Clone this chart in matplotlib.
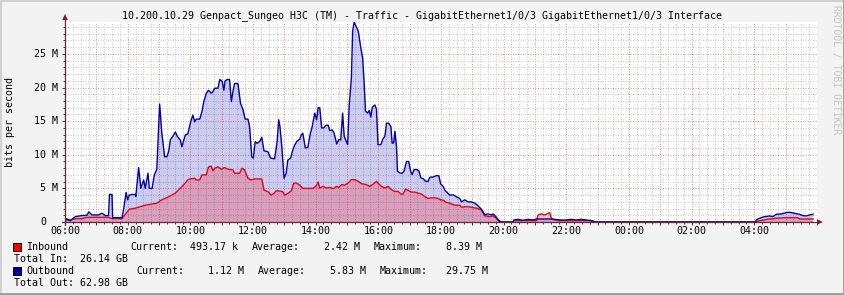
import matplotlib
matplotlib.use('Agg')
import matplotlib.pyplot as plt
import matplotlib.transforms as mtrans
from matplotlib.patches import Rectangle, Polygon
from matplotlib.lines import Line2D

# ---------------- data (hours since 06:00, values in Mbit/s) ----------------
out_t = [0.00, 0.01, 0.17, 0.25, 0.33, 0.54, 0.70, 0.76, 0.86, 1.07, 1.18, 1.29, 1.39, 1.42, 1.50,
         1.52, 1.82, 1.87, 1.95, 2.00, 2.05, 2.14, 2.24, 2.26, 2.35, 2.42, 2.51, 2.56, 2.65, 2.69,
         2.78, 2.85, 2.93, 3.02, 3.09, 3.18, 3.25, 3.31, 3.36, 3.47, 3.52, 3.59, 3.68, 3.73, 3.84,
         3.92, 4.01, 4.08, 4.14, 4.19, 4.30, 4.37, 4.43, 4.51, 4.58, 4.67, 4.72, 4.78, 4.88, 4.94,
         5.02, 5.07, 5.11, 5.18, 5.25, 5.31, 5.36, 5.41, 5.52, 5.60, 5.68, 5.75, 5.84, 5.89, 5.96,
         6.01, 6.07, 6.13, 6.21, 6.28, 6.35, 6.48, 6.56, 6.69, 6.77, 6.82, 6.86, 6.92, 6.99, 7.06,
         7.11, 7.20, 7.27, 7.33, 7.41, 7.49, 7.54, 7.59, 7.67, 7.75, 7.82, 7.89, 7.97, 8.03, 8.08,
         8.13, 8.19, 8.26, 8.33, 8.40, 8.45, 8.53, 8.59, 8.67, 8.74, 8.80, 8.86, 8.91, 8.96, 9.02,
         9.07, 9.14, 9.18, 9.23, 9.29, 9.36, 9.44, 9.50, 9.55, 9.59, 9.66, 9.71, 9.76, 9.81, 9.89,
         9.94, 9.99, 10.08, 10.15, 10.21, 10.26, 10.33, 10.40, 10.44, 10.49, 10.53, 10.58, 10.61,
         10.69, 10.76, 10.82, 10.90, 10.97, 11.03, 11.08, 11.14, 11.22, 11.29, 11.36, 11.43, 11.51,
         11.59, 11.64, 11.75, 11.86, 11.93, 11.99, 12.07, 12.12, 12.28, 12.39, 12.49, 12.60, 12.65,
         12.76, 12.86, 12.97, 13.08, 13.18, 13.29, 13.40, 13.50, 13.61, 13.66, 13.75, 13.82, 13.88,
         14.30, 14.32, 14.46, 14.62, 14.78, 14.94, 15.05, 15.42, 15.63, 15.79, 16.00, 16.16, 16.32,
         16.48, 16.64, 16.80, 16.91, 22.04, 22.06, 22.12, 22.22, 22.33, 22.49, 22.59, 22.70, 22.86,
         23.02, 23.12, 23.28, 23.44, 23.55, 23.66, 23.76, 23.87]
out_v = [0.5, 0.55, 0.2, 0.5, 0.8, 0.95, 1.0, 1.5, 1.05, 1.05, 1.3, 0.95, 0.95, 4.1, 4.1,
         0.65, 0.65, 1.9, 4.4, 3.3, 4.0, 4.1, 4.1, 3.8, 8.1, 5.0, 6.25, 5.0, 7.25, 5.0,
         5.0, 7.0, 7.85, 17.55, 13.2, 9.7, 9.7, 10.5, 12.2, 12.95, 13.4, 12.7, 12.2, 11.2, 12.95,
         13.1, 14.9, 15.9, 14.9, 15.3, 15.3, 16.4, 17.9, 19.15, 19.6, 19.15, 19.4, 19.9, 19.9, 21.2,
         20.9, 19.6, 21.0, 21.2, 21.2, 17.9, 19.4, 20.6, 20.6, 17.7, 16.7, 15.3, 15.3, 14.2, 9.7,
         9.5, 11.95, 11.7, 11.95, 12.6, 10.6, 10.45, 9.5, 9.4, 11.95, 15.2, 14.2, 11.2, 6.5, 7.25,
         9.2, 9.5, 10.7, 11.45, 12.05, 12.3, 12.95, 13.2, 11.0, 11.1, 12.95, 14.2, 16.2, 15.2, 17.0,
         17.0, 14.0, 14.0, 14.4, 14.4, 13.6, 13.7, 13.2, 11.6, 12.25, 12.2, 16.2, 12.75, 12.2, 11.5,
         17.4, 21.4, 28.4, 29.75, 29.1, 28.4, 25.9, 24.4, 20.4, 16.5, 16.2, 16.6, 15.6, 17.1, 17.4,
         16.8, 11.5, 11.5, 12.4, 12.75, 14.7, 14.7, 14.2, 11.75, 11.75, 13.5, 11.25, 7.55,
         7.3, 7.25, 7.55, 9.0, 9.0, 7.55, 7.05, 7.8, 7.8, 7.65, 6.55, 6.45, 6.05,
         6.05, 6.65, 6.7, 6.9, 6.9, 5.65, 5.3, 4.75, 4.0, 4.05, 3.75, 3.5, 3.0,
         3.3, 3.0, 3.0, 2.8, 2.4, 1.9, 1.05, 1.2, 1.05, 1.2, 0.8, 0.3, 0.0,
         0.0, 0.3, 0.4, 0.25, 0.4, 0.3, 0.45, 0.45, 0.4, 0.3, 0.3, 0.4, 0.3,
         0.4, 0.3, 0.2, 0.0, 0.0, 0.3, 0.45, 0.65, 0.8, 0.9, 0.8, 1.15, 1.2,
         1.4, 1.45, 1.3, 1.15, 0.95, 0.9, 1.05, 1.15]

in_t = [0.00, 0.17, 0.33, 0.54, 0.70, 1.39, 1.50, 1.82, 1.87, 1.95, 2.05, 2.24, 2.56, 2.93, 3.09,
        3.31, 3.52, 3.73, 3.92, 3.98, 4.14, 4.19, 4.30, 4.37, 4.51, 4.58, 4.67, 4.72, 4.78, 4.88,
        4.99, 5.09, 5.20, 5.36, 5.41, 5.57, 5.65, 5.73, 5.84, 5.94, 6.05, 6.28, 6.35, 6.48, 6.58,
        6.67, 6.74, 6.85, 6.95, 7.01, 7.11, 7.22, 7.30, 7.38, 7.49, 7.59, 7.91, 8.02, 8.08, 8.13,
        8.24, 8.35, 8.45, 8.56, 8.67, 8.74, 8.83, 8.93, 9.04, 9.14, 9.25, 9.36, 9.46, 9.62, 9.73,
        9.84, 9.94, 10.02, 10.10, 10.21, 10.31, 10.42, 10.52, 10.63, 10.72, 10.79, 10.87, 10.95,
        11.06, 11.16, 11.27, 11.38, 11.48, 11.59, 11.70, 11.80, 11.91, 11.99, 12.10, 12.12, 12.28,
        12.44, 12.60, 12.65, 12.81, 12.97, 13.13, 13.29, 13.40, 13.56, 13.66, 13.77, 13.86, 13.93,
        14.30, 14.32, 15.05, 15.10, 15.21, 15.31, 15.42, 15.47, 15.52, 15.63, 15.79, 16.85, 16.91,
        22.04, 22.06, 22.17, 22.33, 22.43, 22.59, 22.65, 23.02, 23.39, 23.44, 23.87]
in_v = [0.3, 0.3, 0.5, 0.5, 0.7, 0.7, 0.5, 0.5, 0.8, 1.3, 1.9, 2.05, 2.5, 2.8, 3.3,
        3.75, 4.3, 5.25, 6.25, 6.4, 6.5, 6.25, 6.25, 7.0, 7.0, 8.2, 8.3, 7.6, 8.0, 8.2,
        7.85, 8.1, 7.85, 7.75, 7.25, 7.25, 8.0, 7.75, 6.5, 6.25, 6.4, 6.4, 4.75, 4.5, 4.0,
        4.25, 4.65, 4.6, 4.5, 4.0, 4.25, 4.6, 5.75, 5.8, 5.5, 5.0, 5.0, 5.4, 5.95, 5.05,
        5.3, 5.05, 5.15, 4.95, 5.3, 5.15, 5.55, 5.5, 5.8, 6.3, 6.3, 6.05, 5.7, 5.55, 5.3,
        5.65, 6.05, 5.65, 5.3, 5.05, 5.3, 4.8, 4.55, 4.55, 4.15, 4.15, 4.9, 4.7,
        4.45, 4.45, 4.3, 4.15, 3.8, 3.5, 3.6, 3.6, 3.5, 3.3, 3.2, 3.0, 2.8,
        2.5, 2.5, 2.2, 2.3, 2.2, 2.05, 1.8, 0.9, 0.8, 0.9, 0.55, 0.2, 0.0,
        0.0, 0.2, 0.2, 1.05, 1.2, 1.05, 1.3, 1.4, 0.55, 0.3, 0.2, 0.2, 0.0,
        0.0, 0.05, 0.2, 0.3, 0.45, 0.45, 0.55, 0.65, 0.65, 0.45, 0.45]

x_ticks = list(range(0, 24, 2))
x_tick_labels = ["06:00", "08:00", "10:00", "12:00", "14:00", "16:00",
                 "18:00", "20:00", "22:00", "00:00", "02:00", "04:00"]
y_ticks = [0, 5, 10, 15, 20, 25]
y_tick_labels = ["0", "5 M", "10 M", "15 M", "20 M", "25 M"]

title = "10.200.10.29 Genpact_Sungeo H3C (TM) - Traffic - GigabitEthernet1/0/3 GigabitEthernet1/0/3 Interface"
in_stats = ["Inbound", "Current:", "493.17 k", "Average:", "2.42 M", "Maximum:", "8.39 M"]
out_stats = ["Outbound", "Current:", "1.12 M", "Average:", "5.83 M", "Maximum:", "29.75 M"]
total_in = "Total In:  26.14 GB"
total_out = "Total Out: 62.98 GB"

# ---------------- figure ----------------
W, H = 845, 295
FONT = "DejaVu Sans Mono"
FS = 7.2
fig = plt.figure(figsize=(W / 100, H / 100), dpi=100, facecolor="#F3F3F3")

L, R, T, B = 65, 817, 22, 222
ax = fig.add_axes([L / W, 1 - B / H, (R - L) / W, (B - T) / H])
ax.set_facecolor("white")
ax.set_xlim(0, 24)
ax.set_ylim(0, 29.75)
for s in ax.spines.values():
    s.set_visible(False)

# grid
ax.set_xticks(range(0, 25), minor=False)
ax.set_xticks([i * 0.25 for i in range(97)], minor=True)
ax.set_yticks(range(0, 30, 5))
ax.set_yticks(range(0, 30), minor=True)
ax.grid(which="minor", color="#CACACA", lw=0.72, linestyle=(0, (1, 1.5)), zorder=0)
ax.grid(which="major", color="#F09494", lw=0.72, linestyle=(0, (1, 1.5)), zorder=0)
ax.set_axisbelow(True)
ax.tick_params(which="both", labelbottom=False, labelleft=False, color="#5A3030", width=0.7)
ax.tick_params(which="major", direction="out", length=2.2)
ax.tick_params(which="minor", direction="out", length=1.2)

# data
ax.fill_between(out_t, out_v, 0, color="#0000AA", alpha=0.2, lw=0, zorder=2)
ax.fill_between(in_t, in_v, 0, color="#FF0000", alpha=0.22, lw=0, zorder=3)
ax.plot(in_t, in_v, color="#E8001C", lw=1.0, zorder=4)
ax.plot(out_t, out_v, color="#0000A8", lw=1.0, zorder=5)

# overlay in pixel coordinates
ov = fig.add_axes([0, 0, 1, 1])
ov.set_xlim(0, W)
ov.set_ylim(H, 0)
ov.axis("off")

# frame
ov.add_line(Line2D([0, W], [0.5, 0.5], color="#D2D2D2", lw=1.5))
ov.add_line(Line2D([0.5, 0.5], [0, H], color="#D2D2D2", lw=1.5))
ov.add_line(Line2D([0, W], [H - 1, H - 1], color="#9C9C9C", lw=2))
ov.add_line(Line2D([W - 1, W - 1], [0, H], color="#9C9C9C", lw=2))

# axes lines + arrows
AX_C = "#5A3030"
AR_C = "#8B1A1A"
ov.add_line(Line2D([62, 818], [B, B], color=AX_C, lw=0.9))
ov.add_line(Line2D([L, L], [B + 3, 19], color=AX_C, lw=0.9))
ov.add_patch(Polygon([[817, B - 2.8], [823, B], [817, B + 2.8]], closed=True, color=AR_C, lw=0))
ov.add_patch(Polygon([[L - 2.8, 20], [L, 14], [L + 2.8, 20]], closed=True, color=AR_C, lw=0))

# title
ov.text(422, 15.5, title, family=FONT, size=FS, ha="center", va="center", color="black")

# y label
ov.text(10.5, 122, "bits per second", family=FONT, size=FS, rotation=90,
        ha="center", va="center", color="black")

# watermark
ov.text(836.5, 5, "RRDTOOL / TOBI OETIKER", family=FONT, size=7.0, rotation=270,
        ha="center", va="top", color="#C4C4C4")

# x tick labels (data x, pixel y)
tx = mtrans.blended_transform_factory(ax.transData, ov.transData)
for t, lab in zip(x_ticks, x_tick_labels):
    ov.text(t, 231.5, lab, family=FONT, size=FS, ha="center", va="center", transform=tx)

# y tick labels (pixel x, data y)
ty = mtrans.blended_transform_factory(ov.transData, ax.transData)
for v, lab in zip(y_ticks, y_tick_labels):
    xr = 58.5 if v != 0 else 46
    ov.text(xr, v, lab, family=FONT, size=FS, ha="right", va="center", transform=ty)

# legend
in_x = [26, 130, 190, 252, 324, 374, 446]
out_x = [26, 136.5, 208, 258, 330, 380, 446]
for x, s in zip(in_x, in_stats):
    ov.text(x, 246.5, s, family=FONT, size=FS, ha="left", va="center")
for x, s in zip(out_x, out_stats):
    ov.text(x, 270.5, s, family=FONT, size=FS, ha="left", va="center")
ov.text(14, 259, total_in, family=FONT, size=FS, ha="left", va="center")
ov.text(14, 283, total_out, family=FONT, size=FS, ha="left", va="center")
ov.add_patch(Rectangle((13, 242.5), 8, 8, facecolor="#FF0000", edgecolor="black", lw=0.7))
ov.add_patch(Rectangle((13, 266.5), 8, 8, facecolor="#0000AA", edgecolor="black", lw=0.7))

fig.savefig("out.png", dpi=100, facecolor=fig.get_facecolor())
